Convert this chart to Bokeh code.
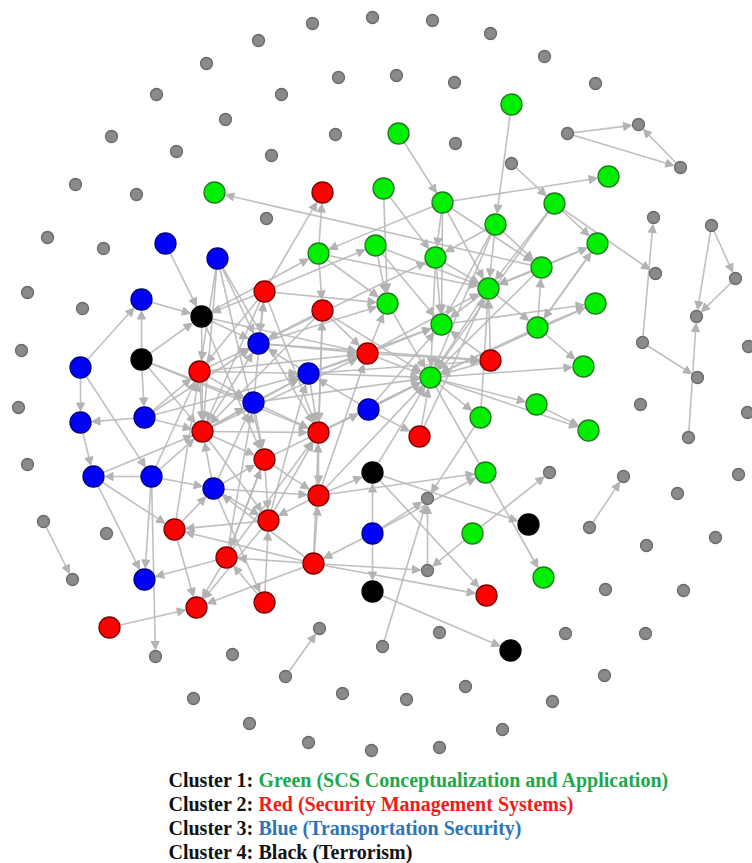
import math
from bokeh.plotting import figure
from bokeh.models import ColumnDataSource, Arrow, NormalHead, Range1d
from bokeh.core.properties import value
from bokeh.embed import file_html
from bokeh.resources import INLINE

# ---- node layout (canvas coordinates, y grows downward) ----
green_nodes = {
    "G1": (511, 104), "G2": (398, 133), "G3": (383, 188), "G4": (214, 192),
    "G5": (608, 176), "G6": (442, 202), "G7": (554, 203), "G8": (495, 224),
    "G9": (597, 243), "G10": (318, 253), "G11": (375, 245), "G12": (435, 257),
    "G13": (541, 267), "G14": (488, 288), "G15": (387, 303), "G16": (595, 303),
    "G17": (441, 324), "G18": (537, 327), "G19": (583, 366), "G20": (430, 377),
    "G21": (536, 404), "G22": (480, 417), "G23": (588, 430), "G24": (485, 472),
    "G25": (472, 533), "G26": (543, 577),
}
red_nodes = {
    "R1": (322, 192), "R2": (264, 291), "R3": (322, 310), "R4": (199, 371),
    "R5": (367, 353), "R6": (490, 360), "R7": (202, 431), "R8": (318, 432),
    "R9": (419, 436), "R10": (264, 459), "R11": (318, 495), "R12": (174, 529),
    "R13": (268, 520), "R14": (226, 557), "R15": (313, 563), "R16": (196, 607),
    "R17": (264, 602), "R18": (109, 627), "R19": (486, 595),
}
blue_nodes = {
    "B1": (165, 243), "B2": (217, 258), "B3": (141, 299), "B4": (258, 343),
    "B5": (80, 367), "B6": (308, 373), "B7": (253, 402), "B8": (80, 422),
    "B9": (144, 417), "B10": (368, 409), "B11": (93, 476), "B12": (151, 476),
    "B13": (213, 488), "B14": (372, 533), "B15": (144, 579),
}
black_nodes = {
    "K1": (201, 316), "K2": (141, 359), "K3": (372, 472), "K4": (528, 524),
    "K5": (372, 591), "K6": (510, 650),
}
gray_nodes = {
    "N1": (372, 17), "N2": (312, 23), "N3": (432, 20), "N4": (258, 40),
    "N5": (490, 33), "N6": (206, 63), "N7": (544, 56), "N8": (156, 94),
    "N9": (281, 94), "N10": (338, 77), "N11": (396, 75), "N12": (454, 82),
    "N13": (595, 83), "N14": (225, 119), "N15": (111, 136), "N16": (335, 134),
    "N17": (455, 143), "N18": (176, 151), "N19": (271, 155), "N20": (511, 163),
    "N21": (567, 133), "N22": (638, 124), "N23": (680, 167), "N24": (75, 184),
    "N25": (136, 194), "N26": (266, 218), "N27": (47, 237), "N28": (103, 248),
    "N29": (27, 292), "N30": (82, 308), "N31": (21, 350), "N32": (18, 407),
    "N33": (27, 464), "N34": (43, 521), "N35": (106, 533), "N36": (72, 579),
    "N37": (155, 656), "N38": (232, 654), "N39": (285, 676), "N40": (319, 628),
    "N41": (382, 646), "N42": (439, 632), "N43": (565, 633), "N44": (645, 633),
    "N45": (604, 675), "N46": (193, 698), "N47": (342, 693), "N48": (406, 699),
    "N49": (465, 686), "N50": (552, 701), "N51": (249, 723), "N52": (502, 729),
    "N53": (308, 742), "N54": (371, 750), "N55": (439, 747), "N56": (427, 498),
    "N57": (427, 570), "N58": (549, 472), "N59": (623, 476), "N60": (589, 527),
    "N61": (605, 589), "N62": (683, 590), "N63": (646, 545), "N64": (715, 537),
    "N65": (677, 493), "N66": (738, 474), "N67": (747, 412), "N68": (748, 346),
    "N69": (640, 404), "N70": (688, 437), "N71": (697, 377), "N72": (642, 342),
    "N73": (696, 316), "N74": (735, 278), "N75": (711, 225), "N76": (655, 273),
    "N77": (653, 217),
}

# ---- directed citation links (source, target) ----
edges = [
    # green cluster
    ("G2", "G6"), ("G1", "G8"), ("G6", "G5"), ("G6", "G10"), ("G6", "G12"),
    ("G6", "G17"), ("G6", "G14"), ("G6", "G13"), ("G7", "G9"), ("G7", "G14"),
    ("G7", "G20"), ("G8", "G12"), ("G8", "G13"), ("G8", "G14"), ("G8", "G20"),
    ("G8", "G17"), ("G3", "G12"), ("G3", "G15"), ("G13", "G9"), ("G18", "G9"),
    ("G13", "G14"), ("G11", "G14"), ("G11", "G17"), ("G11", "G15"),
    ("G10", "G15"), ("G10", "G14"), ("G12", "G14"), ("G12", "G17"),
    ("G14", "G18"), ("G18", "G16"), ("G18", "G19"), ("G18", "G13"),
    ("G17", "G16"), ("G20", "G21"), ("G20", "G19"), ("G20", "G23"),
    ("G21", "G23"), ("G22", "G14"), ("G14", "G20"), ("G12", "G20"),
    ("G15", "G20"), ("G13", "G20"), ("G9", "G14"), ("G20", "G22"),
    ("G20", "G26"), ("G13", "G4"), ("G16", "G20"), ("G18", "G20"),
    ("G14", "G17"), ("G9", "G18"),
    # red / blue / black core
    ("R2", "R1"), ("G10", "R1"), ("R2", "G11"), ("R2", "G15"), ("R2", "K1"),
    ("R2", "B4"), ("R2", "R4"), ("R2", "R7"), ("R2", "R8"), ("R3", "R8"),
    ("R3", "R5"), ("R3", "B4"), ("R3", "R7"), ("R3", "G20"), ("G10", "R3"),
    ("B1", "K1"), ("B2", "B4"), ("B2", "R7"), ("B2", "R8"), ("B2", "R10"),
    ("B3", "K1"), ("K2", "B3"), ("B5", "B3"), ("K2", "K1"), ("K2", "B9"),
    ("K2", "R7"), ("K2", "B7"), ("K2", "R8"), ("K1", "B4"), ("K1", "R7"),
    ("K1", "R10"), ("K1", "R5"), ("B5", "B8"), ("B5", "B12"), ("B8", "B11"),
    ("B9", "B8"), ("B9", "R7"), ("B9", "B4"), ("B9", "B6"), ("B9", "R4"),
    ("B11", "B15"), ("B12", "B15"), ("B12", "B11"), ("B12", "B13"),
    ("B12", "R7"), ("B12", "R4"), ("B11", "R12"), ("B11", "R7"),
    ("R14", "B15"), ("R18", "R16"), ("R12", "R16"), ("R14", "R16"),
    ("R13", "R16"), ("R15", "R16"), ("R15", "R12"), ("R13", "R12"),
    ("B13", "R13"), ("B13", "R17"), ("B13", "R10"), ("R11", "R13"),
    ("R11", "K3"), ("R10", "R13"), ("R10", "R11"), ("R10", "R14"),
    ("B14", "R15"), ("B14", "K3"), ("B14", "K5"), ("B14", "G24"),
    ("R15", "R19"), ("R15", "R14"), ("R15", "R11"), ("R15", "B13"),
    ("R4", "R7"), ("R4", "B4"), ("R4", "B6"), ("R4", "R5"), ("R7", "B4"),
    ("R7", "B6"), ("R7", "R8"), ("R7", "B7"), ("R7", "R10"), ("R7", "R13"),
    ("R7", "R5"), ("B7", "R8"), ("B7", "B6"), ("B7", "R10"), ("B7", "R2"),
    ("B6", "B4"), ("B4", "R5"), ("B4", "G15"), ("B6", "R5"), ("B6", "G20"),
    ("B6", "G17"), ("B6", "R8"), ("B6", "R6"), ("B7", "G20"), ("R8", "B10"),
    ("R8", "R11"), ("R8", "G20"), ("R8", "R3"), ("R5", "G15"), ("R5", "G17"),
    ("R5", "G20"), ("R5", "G14"), ("R5", "R6"), ("R6", "G14"), ("R6", "G20"),
    ("R6", "G17"), ("B10", "G20"), ("B10", "G17"), ("B10", "R9"),
    ("R9", "G20"), ("R9", "G14"), ("K3", "K4"), ("R11", "G24"),
    ("R11", "G20"), ("R13", "B6"), ("R13", "R8"), ("R14", "R8"),
    ("R14", "R10"), ("R14", "B7"), ("R17", "R13"), ("R17", "R14"),
    ("R15", "R8"), ("R12", "B13"), ("R12", "R4"), ("R11", "R5"),
    ("B2", "R4"), ("R4", "B7"), ("B13", "R7"), ("B13", "R11"), ("B13", "B7"),
    ("B4", "G12"), ("K1", "G10"), ("B4", "R6"), ("R10", "G20"),
    ("K3", "G20"), ("B10", "B6"),
    # sparse links in the periphery
    ("N21", "N22"), ("N21", "N23"), ("N23", "N22"), ("N20", "G7"),
    ("G7", "N76"), ("N72", "N77"), ("N72", "N71"), ("N70", "N73"),
    ("N75", "N74"), ("N74", "N73"), ("N75", "N73"), ("N60", "N59"),
    ("G25", "N58"), ("G25", "N57"), ("B14", "N56"), ("N57", "N56"),
    ("N41", "N56"), ("G22", "N56"), ("K5", "K6"), ("B12", "N37"),
    ("N39", "N40"), ("N34", "N36"), ("R15", "N57"), ("K3", "R19"),
]

legend_prefix = ["Cluster 1: ", "Cluster 2: ", "Cluster 3: ", "Cluster 4: "]
legend_names = [
    "Green (SCS Conceptualization and Application)",
    "Red (Security Management Systems)",
    "Blue (Transportation Security)",
    "Black (Terrorism)",
]
legend_colors = ["#1ea84c", "#ee1c1c", "#2f74b5", "#111111"]

# ---- styles ----
BIG, SMALL = 21, 12
styles = {
    "green": (green_nodes, "#00ee00", "#1f7a1f", BIG),
    "red": (red_nodes, "#ff0000", "#7a0000", BIG),
    "blue": (blue_nodes, "#0000ff", "#00007a", BIG),
    "black": (black_nodes, "#000000", "#000000", BIG),
    "gray": (gray_nodes, "#8a8a8a", "#6a6a6a", SMALL),
}

pos, size_of = {}, {}
for _, (nodes, _f, _l, s) in styles.items():
    for k, v in nodes.items():
        pos[k] = v
        size_of[k] = s

W, H = 752, 863
p = figure(width=W, height=H, output_backend="svg", toolbar_location=None,
           x_range=Range1d(0, W), y_range=Range1d(H, 0),
           x_axis_location=None, y_axis_location=None, min_border=0)
p.grid.visible = False
p.outline_line_color = None
p.background_fill_color = "white"

# arrows end at the rim of the target node
xs, ys, xe, ye = [], [], [], []
for s, t in edges:
    x0, y0 = pos[s]
    x1, y1 = pos[t]
    d = math.hypot(x1 - x0, y1 - y0)
    r = size_of[t] / 2 + 1
    xs.append(x0)
    ys.append(y0)
    xe.append(x1 - (x1 - x0) / d * r)
    ye.append(y1 - (y1 - y0) / d * r)

edge_src = ColumnDataSource(dict(x_start=xs, y_start=ys, x_end=xe, y_end=ye))
arrows = Arrow(source=edge_src, x_start="x_start", y_start="y_start",
               x_end="x_end", y_end="y_end",
               line_color="#b8b8b8", line_width=1.6, line_alpha=0.9,
               end=NormalHead(size=8, fill_color="#b0b0b0", line_color="#b0b0b0",
                              fill_alpha=0.95),
               level="underlay")
p.add_layout(arrows)

for name, (nodes, fill, line, s) in styles.items():
    src = ColumnDataSource(dict(x=[v[0] for v in nodes.values()],
                                y=[v[1] for v in nodes.values()]))
    p.scatter("x", "y", source=src, marker="circle", size=s,
              fill_color=fill, line_color=line, line_width=1.3)

# cluster legend text
font = value("Liberation Serif")
line_y = [779, 803, 827, 851]
p.text(x=[168] * 4, y=line_y, text=legend_prefix, text_font=font,
       text_font_style="bold", text_font_size="20px", text_color="#111111",
       text_baseline="alphabetic", text_align="left")
p.text(x=[258] * 4, y=line_y, text=legend_names, text_font=font,
       text_font_style="bold", text_font_size="20px", text_color=legend_colors,
       text_baseline="alphabetic", text_align="left")

open("out.html", "w").write(file_html(p, INLINE))
